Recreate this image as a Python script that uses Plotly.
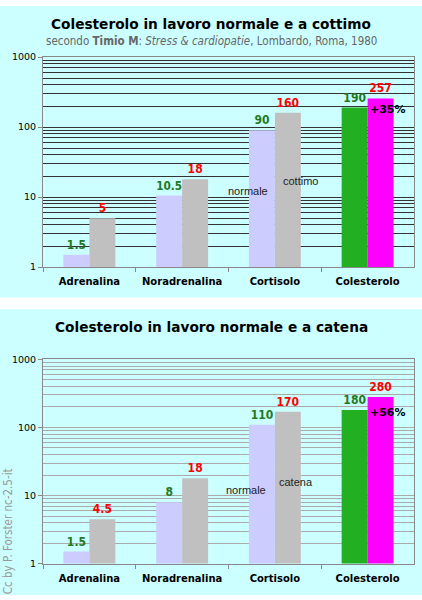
import math
import plotly.graph_objects as go

categories = ['Adrenalina', 'Noradrenalina', 'Cortisolo', 'Colesterolo']

# grafico 1 - lavoro a cottimo
normale_1 = [1.5, 10.5, 90, 190]
cottimo_1 = [5, 18, 160, 257]
label_normale_1 = ['1.5', '10.5', '90', '190']
label_cottimo_1 = ['5', '18', '160', '257']

# grafico 2 - lavoro a catena
normale_2 = [1.5, 8, 110, 180]
catena_2 = [4.5, 18, 170, 280]
label_normale_2 = ['1.5', '8', '110', '180']
label_catena_2 = ['4.5', '18', '170', '280']

col_normale = ['#CCCCFF', '#CCCCFF', '#CCCCFF', '#22B022']
col_secondo = ['#C0C0C0', '#C0C0C0', '#C0C0C0', '#FF00FF']

narrow = 'DejaVu Sans Condensed, Liberation Sans'
verdana = 'DejaVu Sans'

fig = go.Figure()


def add_pair(vals_a, vals_b, txt_a, txt_b, xa, ya):
    fig.add_trace(go.Bar(
        x=categories, y=vals_a, text=txt_a, textposition='outside',
        marker=dict(color=col_normale, line=dict(width=0)),
        textfont=dict(family=narrow, size=12, color='#1E7A1E', weight='bold'),
        cliponaxis=False, xaxis=xa, yaxis=ya, showlegend=False
    ))
    fig.add_trace(go.Bar(
        x=categories, y=vals_b, text=txt_b, textposition='outside',
        marker=dict(color=col_secondo, line=dict(width=0)),
        textfont=dict(family=narrow, size=12, color='#FF0000', weight='bold'),
        cliponaxis=False, xaxis=xa, yaxis=ya, showlegend=False
    ))


add_pair(normale_1, cottimo_1, label_normale_1, label_cottimo_1, 'x', 'y')
add_pair(normale_2, catena_2, label_normale_2, label_catena_2, 'x2', 'y2')

xcommon = dict(
    domain=[0.102, 0.981], showline=True, linecolor='#888888', mirror=True,
    ticks='outside', tickson='boundaries', ticklen=4, tickcolor='#888888',
    ticklabelstandoff=5,
    tickfont=dict(family=verdana, size=10, color='#000000', weight='bold'),
    showgrid=False
)


def yaxis_def(dom, gcol):
    return dict(
        type='log', domain=dom, range=[0, 3],
        tickvals=[1, 10, 100, 1000], ticktext=['1', '10', '100', '1000'],
        ticks='outside', ticklen=4, tickcolor='#888888',
        tickfont=dict(family=verdana, size=9.5, color='#000000'),
        showline=True, linecolor='#888888', mirror=True,
        showgrid=True, gridcolor=gcol, gridwidth=1,
        minor=dict(dtick='D1', showgrid=True, gridcolor=gcol, gridwidth=1, ticks=''),
        zeroline=False
    )


fig.update_layout(
    width=422, height=600,
    margin=dict(l=0, r=0, t=0, b=0),
    paper_bgcolor='white',
    plot_bgcolor='#FFFFCC',
    barmode='group', bargap=0.44, bargroupgap=0,
    xaxis=dict(anchor='y', **xcommon),
    yaxis=dict(anchor='x', **yaxis_def([0.5567, 0.9133], '#333333')),
    xaxis2=dict(anchor='y2', **xcommon),
    yaxis2=dict(anchor='x2', **yaxis_def([0.0533, 0.40], '#AAAAAA')),
    shapes=[
        dict(type='rect', xref='paper', yref='paper', x0=0, x1=1, y0=0.505, y1=1,
             fillcolor='#CCFFFF', line=dict(width=0), layer='below'),
        dict(type='rect', xref='paper', yref='paper', x0=0, x1=1, y0=0, y1=0.485,
             fillcolor='#CCFFFF', line=dict(width=0), layer='below'),
    ],
)

ann = [
    dict(text='Colesterolo in lavoro normale e a cottimo', x=0.5, y=1 - 18 / 600,
         font=dict(family=verdana, size=13.7, color='#000000', weight='bold')),
    dict(text='secondo <b>Timio M</b>: <i>Stress &amp; cardiopatie</i>, Lombardo, Roma, 1980',
         x=0.5, y=1 - 36 / 600, font=dict(family=narrow, size=11.5, color='#666666')),
    dict(text='Colesterolo in lavoro normale e a catena', x=0.5, y=1 - 327 / 600,
         font=dict(family=verdana, size=13.7, color='#000000', weight='bold')),
    dict(text='Cc by P. Forster nc-2.5-it', x=8 / 422, y=1 - 535 / 600, textangle=-90,
         font=dict(family=narrow, size=11.5, color='#999999')),
]
for a in ann:
    fig.add_annotation(xref='paper', yref='paper', showarrow=False,
                       xanchor='center', yanchor='middle', **a)

# etichette interne
note = [
    ('x', 'y', categories[2], 12.2, -27, 'normale', 'center', 11, '#222222', 'normal'),
    ('x', 'y', categories[2], 16.8, 26, 'cottimo', 'center', 11, '#222222', 'normal'),
    ('x', 'y', categories[3], 180, 0, '+35%', 'left', 11, '#000000', 'bold'),
    ('x2', 'y2', categories[2], 12, -29, 'normale', 'center', 11, '#222222', 'normal'),
    ('x2', 'y2', categories[2], 15.6, 21, 'catena', 'center', 11, '#222222', 'normal'),
    ('x2', 'y2', categories[3], 165, 0, '+56%', 'left', 11, '#000000', 'bold'),
]
for xr, yr, cx, vy, dx, txt, anc, sz, colr, wt in note:
    fig.add_annotation(
        xref=xr, yref=yr, x=cx, y=math.log10(vy), xshift=dx, text=txt,
        xanchor=anc, showarrow=False,
        font=dict(family='Liberation Sans' if wt == 'normal' else verdana,
                  size=sz, color=colr, weight=wt)
    )

fig.write_html("out.html", config={'displayModeBar': False},
               post_script="document.body.style.margin='0';")
